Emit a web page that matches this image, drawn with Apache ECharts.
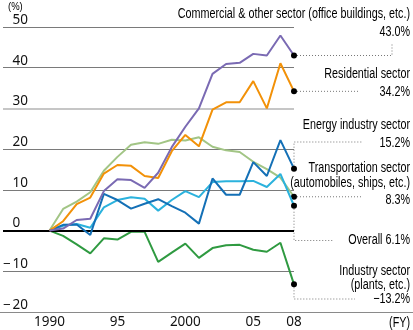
<!DOCTYPE html>
<html><head><meta charset="utf-8">
<script src="https://cdn.jsdelivr.net/npm/echarts@6/dist/echarts.min.js"></script>
<style>html,body{margin:0;padding:0;background:#fff}#c{width:413px;height:330px}</style>
</head><body><div id="c"></div>
<script>
// ---- data ----
const years = [1990,1991,1992,1993,1994,1995,1996,1997,1998,1999,2000,2001,2002,2003,2004,2005,2006,2007,2008];
const commercial     = [0, 0.5, 2.6, 2.9, 9.7, 12.6, 12.4, 10.5, 14.2, 20.5, 25.5, 30.0, 38.5, 40.9, 41.2, 43.4, 43.0, 47.9, 43.0];
const residential    = [0, 2.3, 6.5, 8.1, 14.0, 16.1, 15.9, 13.4, 12.9, 19.5, 23.5, 20.7, 29.7, 31.5, 31.5, 36.7, 30.0, 41.1, 34.2];
const energy         = [0, 1.4, 1.5, -1.1, 9.0, 7.5, 5.4, 6.6, 7.7, 6.0, 4.4, 1.7, 12.8, 8.8, 8.8, 16.8, 13.4, 22.2, 15.2];
const transportation = [0, 5.3, 7.1, 9.4, 14.7, 18.1, 21.1, 21.7, 21.3, 22.3, 22.1, 22.9, 20.6, 19.7, 19.3, 16.9, 15.1, 13.0, 8.3];
const overall        = [0, 1.2, 1.6, 0.7, 5.7, 7.5, 8.2, 7.8, 4.9, 7.5, 9.7, 8.2, 11.9, 12.1, 12.1, 12.2, 10.7, 13.9, 6.1];
const industry       = [0, -1.3, -3.4, -5.6, -1.9, -2.2, -0.3, -0.3, -7.7, -5.4, -3.2, -6.7, -4.3, -3.6, -3.5, -4.7, -5.2, -3.0, -13.2];
const yTicks = [-20, -10, 0, 10, 20, 30, 40, 50];
const xTickValues = [1990, 1995, 2000, 2005, 2008];
const xTickLabels = ['1990', '95', '2000', '05', '08'];
const sectorNames = {
  commercial: ['Commercial & other sector (office buildings, etc.)'],
  residential: ['Residential sector'],
  energy: ['Energy industry sector'],
  transportation: ['Transportation sector', '(automobiles, ships, etc.)'],
  overall: ['Overall'],
  industry: ['Industry sector', '(plants, etc.)']
};

// ---- chart ----
const chart = echarts.init(document.getElementById('c'), null, {renderer: 'canvas'});
const last = years.length - 1;
const LABEL_FONT = '"Liberation Sans", Arial, sans-serif';
const AXIS_FONT = '"Noto Sans", sans-serif';

function mk(name, vals, color, z) {
  return {
    type: 'line', name: name, z: z,
    xAxisIndex: 0, yAxisIndex: 0,
    showSymbol: true, symbol: 'none', silent: true,
    lineStyle: {color: color, width: 2},
    itemStyle: {color: color},
    data: vals.map((v, i) => i === last
      ? {value: [years[i], v], symbol: 'circle', symbolSize: 6, itemStyle: {color: '#000'}}
      : [years[i], v])
  };
}

const series = [
  mk('industry', industry, '#2f9a41', 3),
  mk('transportation', transportation, '#a2c585', 3),
  mk('overall', overall, '#2bb2dd', 4),
  mk('energy', energy, '#1470b6', 5),
  mk('residential', residential, '#f29108', 6),
  mk('commercial', commercial, '#7a6ab3', 7)
];
series[0].markLine = {
  silent: true, symbol: 'none', label: {show: false}, animation: false,
  data: [
    {yAxis: 0, lineStyle: {color: '#000', width: 2, type: 'solid'}},
    {yAxis: 30, lineStyle: {color: '#c6c6c6', width: 2, type: 'solid'}}
  ]
};

chart.setOption({
  animation: false,
  grid: [
    {left: 0, right: 119, top: 27, bottom: 18},
    {left: 0, right: 0, top: 27, bottom: 18}
  ],
  xAxis: [
    {
      type: 'value', gridIndex: 0, min: 1990 - 47 / 13.72, max: 2008,
      axisLine: {show: false}, axisTick: {show: false}, splitLine: {show: false},
      axisLabel: {
        customValues: xTickValues,
        formatter: v => xTickLabels[xTickValues.indexOf(Math.round(v))] || '',
        color: '#111', fontSize: 13.5, fontFamily: AXIS_FONT, margin: 3
      }
    },
    {
      type: 'value', gridIndex: 1, min: 0, max: 1,
      axisLine: {show: true, onZero: false, lineStyle: {color: '#8a8a8a', width: 1}},
      axisTick: {show: false}, axisLabel: {show: false}, splitLine: {show: false}
    }
  ],
  yAxis: [
    {
      type: 'value', gridIndex: 0, min: yTicks[0], max: yTicks[yTicks.length - 1], interval: 10,
      axisLine: {show: false}, axisTick: {show: false},
      splitLine: {show: true, lineStyle: {width: 1,
        color: yTicks.map(t => t === 0 || t === 30 || t === -20 ? 'rgba(0,0,0,0)' : '#7a7a7a')}},
      axisLabel: {
        inside: true, margin: 0, align: 'left', verticalAlign: 'bottom',
        color: '#111', fontSize: 13.5, fontFamily: AXIS_FONT,
        formatter: v => v < 0 ? '{m|\u2212}{d|' + (-v) + '}' : '{s|}{d|' + v + '}',
        rich: {
          m: {width: 9.5, align: 'left', fontSize: 13.5, fontFamily: AXIS_FONT, color: '#111'},
          s: {width: 9.5, fontSize: 13.5},
          d: {fontSize: 13.5, fontFamily: AXIS_FONT, color: '#111'}
        }
      }
    },
    {type: 'value', gridIndex: 1, min: 0, max: 1, show: false}
  ],
  series: series
});

// ---- annotations (labels + leaders) ----
const fmt = v => (v < 0 ? '\u2212' : '') + Math.abs(v).toFixed(1) + '%';
const finals = {commercial, residential, energy, transportation, overall, industry};
const P = k => chart.convertToPixel({gridIndex: 0}, [years[last], finals[k][last]]);
const RX = 410;
const graphics = [];
function txt(t, x, y, align, size, sx) {
  graphics.push({type: 'text', silent: true, z: 10, x: x, y: y, scaleX: sx || 0.77, scaleY: 1,
    style: {text: t, x: 0, y: 0, align: align || 'right', verticalAlign: 'middle',
      font: (size || 14) + 'px ' + LABEL_FONT, fill: '#000'}});
}
function lead(pts) {
  graphics.push({type: 'polyline', silent: true, z: 1,
    shape: {points: pts}, style: {stroke: '#777', lineWidth: 1, lineDash: [1, 2], fill: null}});
}
let p;
p = P('commercial'); lead([p, [392, p[1]], [392, 43]]);
txt(sectorNames.commercial[0], RX, 14); txt(fmt(commercial[last]), RX, 32);
p = P('residential'); lead([p, [360, p[1]]]);
txt(sectorNames.residential[0], RX, 74); txt(fmt(residential[last]), RX, 92);
p = P('energy'); lead([p, [p[0], 142], [362, 142]]);
txt(sectorNames.energy[0], RX, 125); txt(fmt(energy[last]), RX, 143);
p = P('transportation'); lead([p, [362, p[1]]]);
txt(sectorNames.transportation[0], RX, 168); txt(sectorNames.transportation[1], RX, 183); txt(fmt(transportation[last]), RX, 200);
p = P('overall'); lead([p, [p[0], 240.5], [333, 240.5]]);
txt(sectorNames.overall[0] + ' ' + fmt(overall[last]), RX, 240.5);
p = P('industry'); lead([p, [p[0], 299], [355, 299]]);
txt(sectorNames.industry[0], RX, 271); txt(sectorNames.industry[1], RX, 285); txt(fmt(industry[last]), RX, 299.5);
txt('(FY)', RX, 323.5, 'right', 14);
txt('(%)', 8, 7, 'left', 10, 0.95);
chart.setOption({graphic: graphics});
</script></body></html>
